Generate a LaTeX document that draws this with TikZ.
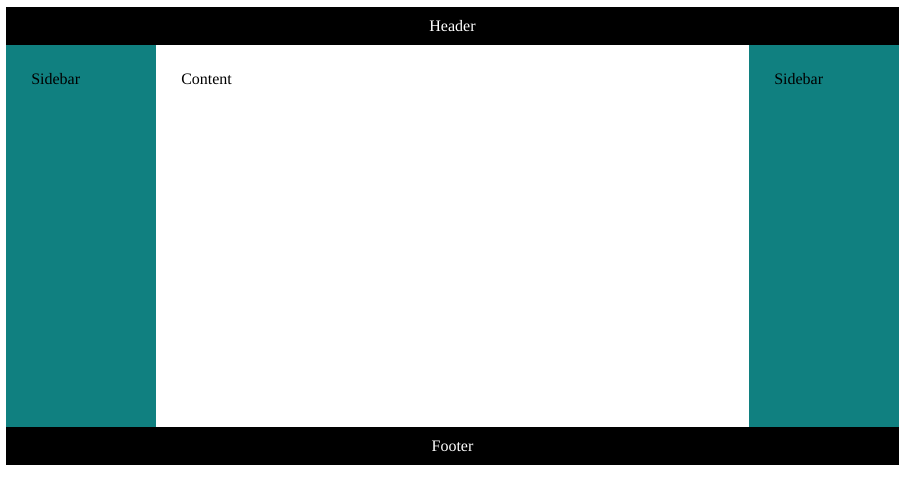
\documentclass[tikz,border=0pt]{standalone}
\usepackage{fontspec}
\setmainfont{Liberation Serif}
\definecolor{tealbar}{RGB}{16,128,128}
\begin{document}
\begin{tikzpicture}[x=0.75pt,y=-0.75pt,
  bar/.style={fill=black,draw=none},
  side/.style={fill=tealbar,draw=none},
  lbl/.style={inner sep=0pt,font=\fontsize{12}{14}\selectfont},
]
\useasboundingbox[fill=white] (0,0) rectangle (906,486);
\path[bar] (6,7) rectangle (899,45);
\path[side] (6,45) rectangle (156,427);
\path[side] (749,45) rectangle (899,427);
\path[bar] (6,427) rectangle (899,465);
\node[lbl,anchor=base,text=white] (header) at (452.5,31) {Header};
\node[lbl,anchor=base,text=white] (footer) at (452.5,451) {Footer};
\node[lbl,anchor=base west] (sideL) at (31,84) {Sidebar};
\node[lbl,anchor=base west] (content) at (181,84) {Content};
\node[lbl,anchor=base west] (sideR) at (774,84) {Sidebar};
\end{tikzpicture}
\end{document}
